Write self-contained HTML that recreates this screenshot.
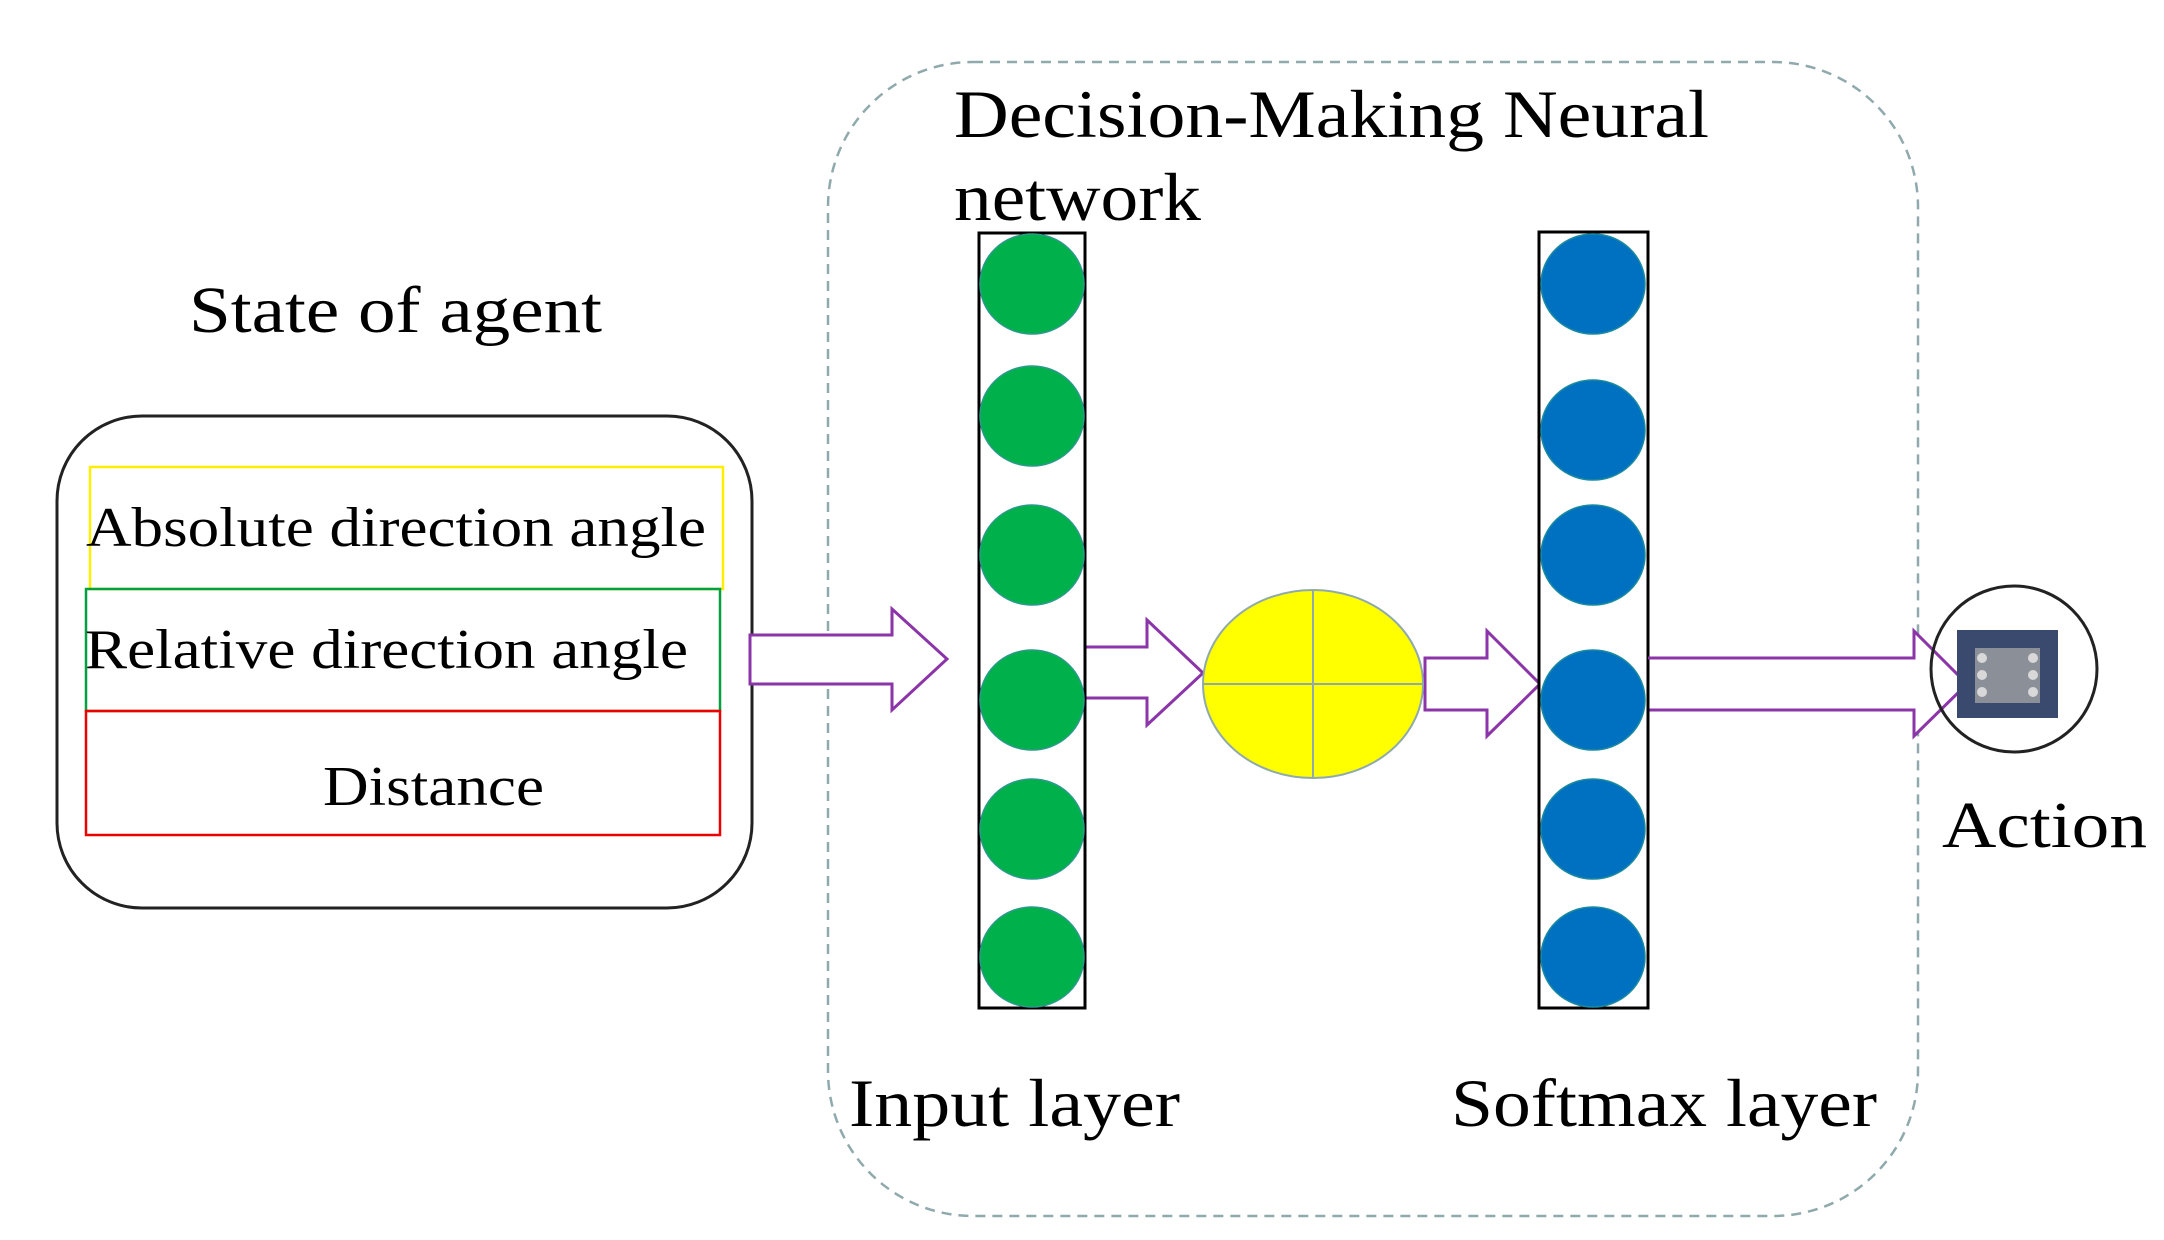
<!DOCTYPE html>
<html><head><meta charset="utf-8"><style>
html,body{margin:0;padding:0;background:#fff;}
svg{display:block;}
text{font-family:"Liberation Serif",serif;fill:#000;}
</style></head><body>
<svg width="2164" height="1240" viewBox="0 0 2164 1240" xmlns="http://www.w3.org/2000/svg">
<rect x="828" y="62" width="1090" height="1154" rx="145" ry="145" fill="none" stroke="#8fa9ad" stroke-width="2.5" stroke-dasharray="10,7"/>
<text x="954" y="137" font-size="68" textLength="755" lengthAdjust="spacingAndGlyphs">Decision-Making Neural</text>
<text x="954" y="220" font-size="68" textLength="247" lengthAdjust="spacingAndGlyphs">network</text>

<text x="189" y="332" font-size="66" textLength="413" lengthAdjust="spacingAndGlyphs">State of agent</text>
<rect x="57" y="416" width="695" height="492" rx="85" ry="85" fill="none" stroke="#222" stroke-width="3"/>
<rect x="90" y="467" width="633" height="122" fill="none" stroke="#ffee00" stroke-width="2.5"/>
<rect x="86" y="589" width="634" height="122" fill="none" stroke="#00a040" stroke-width="2.5"/>
<rect x="86" y="711" width="634" height="124" fill="none" stroke="#ee0000" stroke-width="2.5"/>
<text x="86" y="546" font-size="56" textLength="620" lengthAdjust="spacingAndGlyphs">Absolute direction angle</text>
<text x="85" y="668" font-size="56" textLength="603" lengthAdjust="spacingAndGlyphs">Relative direction angle</text>
<text x="323" y="805" font-size="56" textLength="221" lengthAdjust="spacingAndGlyphs">Distance</text>

<g fill="#fff" stroke="#8b35a8" stroke-width="3" stroke-linejoin="miter">
<polygon points="750,635 892,635 892,609 947,659 892,710 892,684 750,684"/>
<polygon points="1085,647 1147,647 1147,620 1203,673 1147,725 1147,698 1085,698"/>
<polygon points="1425,658 1487,658 1487,631 1540,684 1487,736 1487,710 1425,710"/>
<polygon points="1647,658 1914,658 1914,631 1967,684 1914,736 1914,710 1647,710"/>
</g>

<rect x="979" y="233" width="106" height="775" fill="#fff" stroke="#000" stroke-width="3"/>
<g fill="#00b04a" stroke="#2a9a8a" stroke-width="1.5">
<ellipse cx="1032" cy="284" rx="52" ry="50"/>
<ellipse cx="1032" cy="416" rx="52" ry="50"/>
<ellipse cx="1032" cy="555" rx="52" ry="50"/>
<ellipse cx="1032" cy="700" rx="52" ry="50"/>
<ellipse cx="1032" cy="829" rx="52" ry="50"/>
<ellipse cx="1032" cy="957" rx="52" ry="50"/>
</g>

<ellipse cx="1313" cy="684" rx="110" ry="94" fill="#ffff00" stroke="#8fa9ad" stroke-width="2"/>
<line x1="1203" y1="684" x2="1423" y2="684" stroke="#8fa9ad" stroke-width="2"/>
<line x1="1313" y1="590" x2="1313" y2="778" stroke="#8fa9ad" stroke-width="2"/>

<rect x="1539" y="232" width="109" height="776" fill="#fff" stroke="#000" stroke-width="3"/>
<g fill="#0070c0" stroke="#1a8aa0" stroke-width="1.5">
<ellipse cx="1593" cy="284" rx="52" ry="50"/>
<ellipse cx="1593" cy="430" rx="52" ry="50"/>
<ellipse cx="1593" cy="555" rx="52" ry="50"/>
<ellipse cx="1593" cy="700" rx="52" ry="50"/>
<ellipse cx="1593" cy="829" rx="52" ry="50"/>
<ellipse cx="1593" cy="957" rx="52" ry="50"/>
</g>
<polyline points="1648,658 1914,658" stroke="#8b35a8" stroke-width="3" fill="none"/>

<circle cx="2014" cy="669" r="83" fill="none" stroke="#222" stroke-width="3"/>
<rect x="1957" y="630" width="101" height="88" fill="#3a4a6e"/>
<rect x="1975" y="648" width="65" height="55" fill="#8a8f98"/>
<g fill="#d8d8d8"><circle cx="1982" cy="658" r="5"/><circle cx="1982" cy="675" r="5"/><circle cx="1982" cy="692" r="5"/><circle cx="2033" cy="658" r="5"/><circle cx="2033" cy="675" r="5"/><circle cx="2033" cy="692" r="5"/></g>
<text x="1942" y="847" font-size="66" textLength="205" lengthAdjust="spacingAndGlyphs">Action</text>

<text x="849" y="1126" font-size="68" textLength="331" lengthAdjust="spacingAndGlyphs">Input layer</text>
<text x="1451" y="1126" font-size="68" textLength="426" lengthAdjust="spacingAndGlyphs">Softmax layer</text>
</svg>
</body></html>
